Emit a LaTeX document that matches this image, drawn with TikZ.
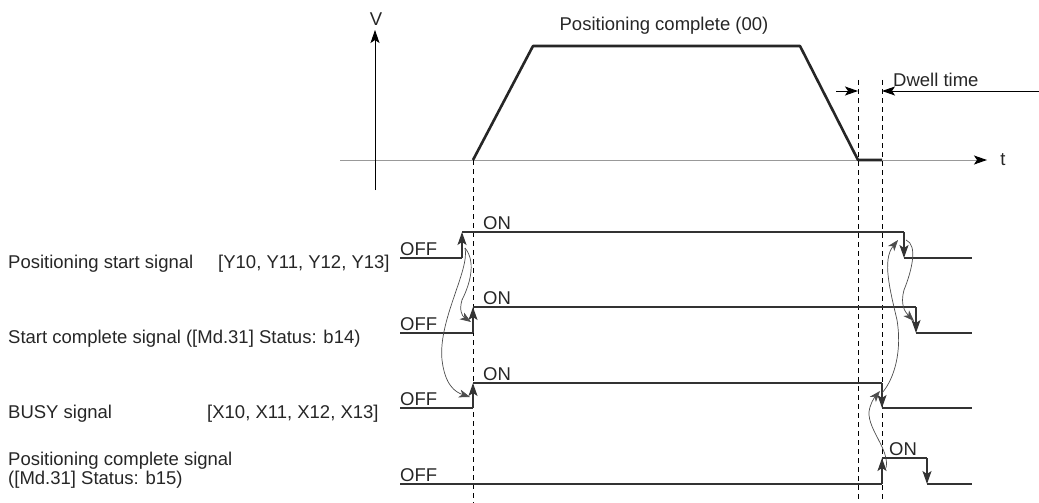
\documentclass[tikz,border=0pt]{standalone}
\usepackage{fontspec}
\setmainfont{Liberation Sans}
\usetikzlibrary{arrows.meta}

\begin{document}
\begin{tikzpicture}[x=1pt,y=-1pt,
    sig/.style={line width=1.6pt,draw=black!80},
    guide/.style={line width=0.8pt,dash pattern=on 5pt off 4pt},
    tip/.style={-{Stealth[length=13pt,width=9pt,inset=3pt]}},
    cause/.style={draw=black!70,line width=0.7pt,-{Stealth[length=11pt,width=8pt,inset=3pt]}},
    lbl/.style={font=\fontsize{18.5}{22}\selectfont,inner sep=0pt,text=black!85}]
  \useasboundingbox (0,0) rectangle (1039,503);

  % speed profile
  \draw[gray!80,line width=1pt,-{Stealth[length=13pt,width=9pt,inset=3pt,black]}] (340,160) -- (987,160);
  \draw[line width=0.8pt,tip] (375,190) -- (375,30);
  \node[lbl] (v) at (376,19) {V};
  \node[lbl] (t) at (1003,160) {t};
  \draw[line width=2.6pt,black!85,line join=round]
    (473,160) -- (533,46) -- (800,46) -- (858,160) -- (882,160);
  \node[lbl,anchor=base] (prof) at (664,31) {Positioning complete (00)};

  % timing guides
  \draw[guide] (473,160) -- (473,503);
  \draw[guide] (858,80) -- (858,503);
  \draw[guide] (882,80) -- (882,503);
  \draw[line width=1pt,tip] (836,91) -- (858,91);
  \draw[line width=1pt,tip] (1039,91) -- (882,91);
  \node[lbl,anchor=base west] (dwell) at (893,87) {Dwell time};

  % signals: low/high/rise/fall/ON x/name
  \foreach \lo/\hi/\up/\dn/\on/\n in {258/232/462/904/483/st, 333/307/473/916/483/sc,
      408/383/473/882/483/busy, 484/458/882/927/889/pc} {
    \draw[sig] (400,\lo) -- (\up,\lo) (\up,\hi) -- (\dn,\hi) (\dn,\lo) -- (972,\lo);
    \draw[sig,tip] (\up,\lo) coordinate (\n-lo) -- (\up,\hi) coordinate (\n-hi);
    \draw[sig,tip] (\dn,\hi) coordinate (\n-fhi) -- (\dn,\lo) coordinate (\n-flo);
    \node[lbl,anchor=base west] (\n-off) at (400,\lo-3) {OFF};
    \node[lbl,anchor=base west] (\n-on) at (\on,\hi-3) {ON};
  }

  \node[lbl,anchor=base west] (l1) at (8,268) {Positioning start signal};
  \node[lbl,anchor=base west] (l1b) at (218,268) {[Y10, Y11, Y12, Y13]};
  \node[lbl,anchor=base west] (l2) at (8,343) {Start complete signal ([Md.31] Status: b14)};
  \node[lbl,anchor=base west] (l3) at (8,418) {BUSY signal};
  \node[lbl,anchor=base west] (l3b) at (207,418) {[X10, X11, X12, X13]};
  \node[lbl,anchor=base west] (l4) at (8,465) {Positioning complete signal};
  \node[lbl,anchor=base west] (l4b) at (8,484) {([Md.31] Status: b15)};

  % cause arrows
  \coordinate (c1) at (465,248);
  \coordinate (c2) at (906,240);
  \coordinate (c3) at (882,393);
  \coordinate (c4) at (886,468);
  \draw[cause] (c1) .. controls (475,260) and (472,280) .. (462,300)
    .. controls (459,310) and (462,316) .. (471,322);
  \draw[cause] (c1) .. controls (470,270) and (438,320) .. (442,360)
    .. controls (445,385) and (455,392) .. (470,397);
  \draw[cause] (c2) .. controls (918,245) and (912,270) .. (904,290)
    .. controls (900,305) and (905,312) .. (914,321);
  \draw[cause] (c3) .. controls (895,378) and (902,350) .. (897,320)
    .. controls (890,290) and (882,260) .. (898,240);
  \draw[cause] (c4) .. controls (890,450) and (868,430) .. (869,412)
    .. controls (870,404) and (874,398) .. (880,391);
\end{tikzpicture}
\end{document}
